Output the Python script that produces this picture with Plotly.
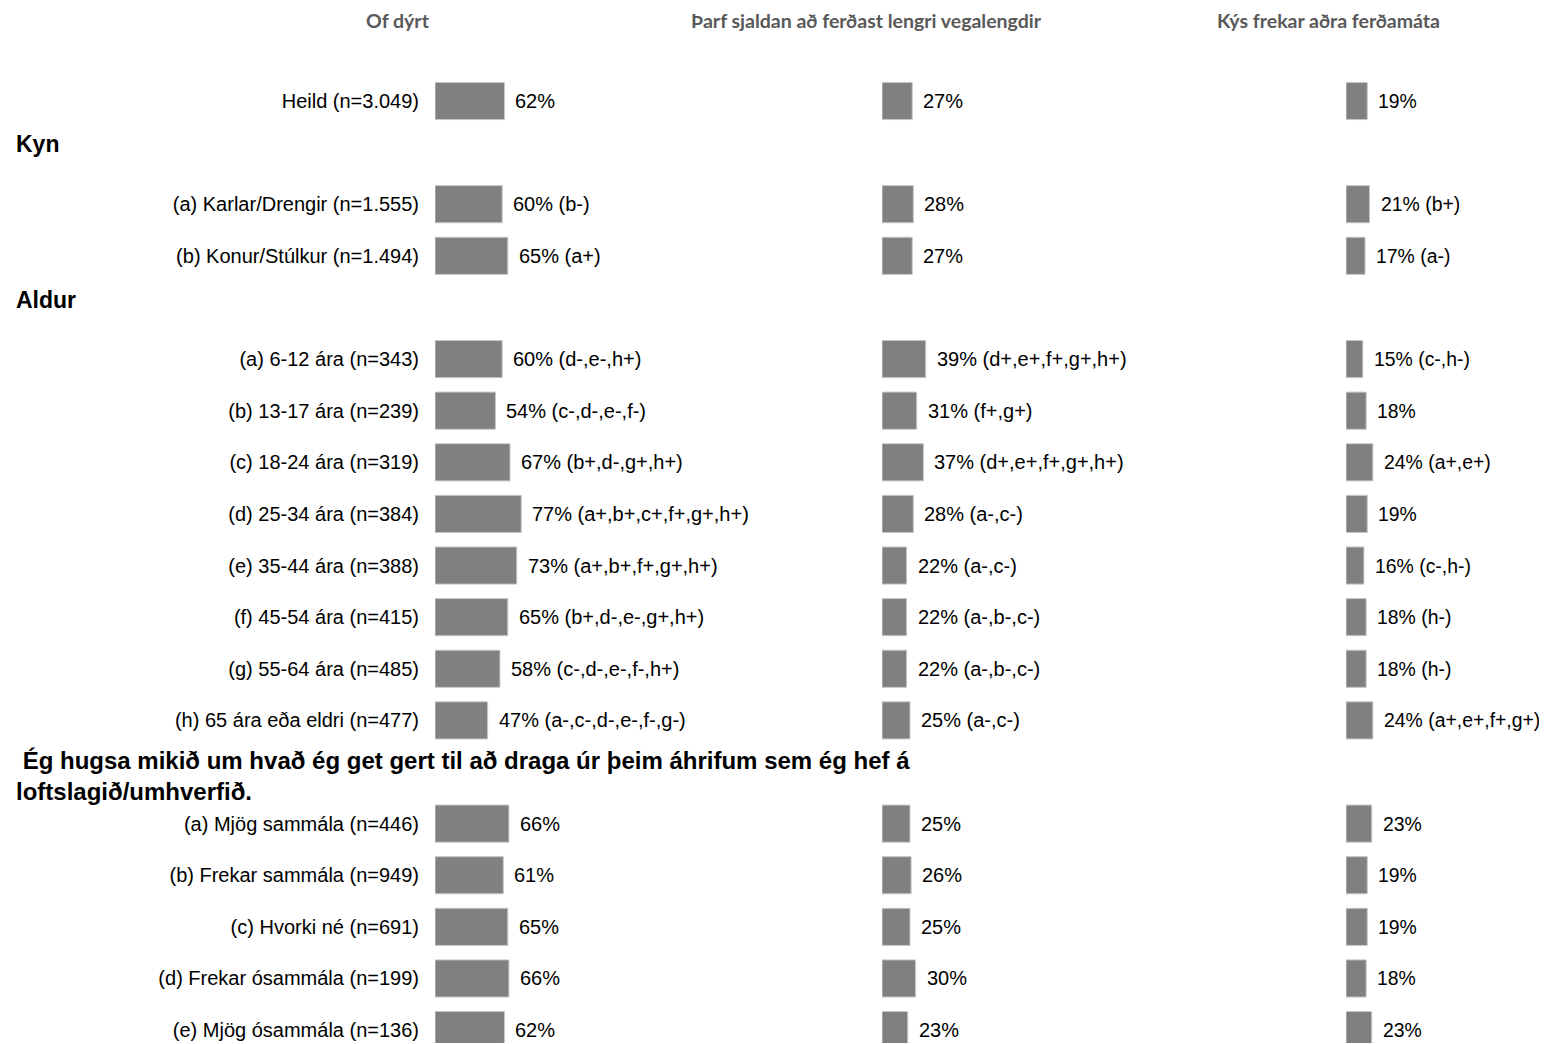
import plotly.graph_objects as go

# ---------------- data ----------------
row_labels = [
    "Heild (n=3.049)",
    "(a) Karlar/Drengir (n=1.555)",
    "(b) Konur/Stúlkur (n=1.494)",
    "(a) 6-12 ára (n=343)",
    "(b) 13-17 ára (n=239)",
    "(c) 18-24 ára (n=319)",
    "(d) 25-34 ára (n=384)",
    "(e) 35-44 ára (n=388)",
    "(f) 45-54 ára (n=415)",
    "(g) 55-64 ára (n=485)",
    "(h) 65 ára eða eldri (n=477)",
    "(a) Mjög sammála (n=446)",
    "(b) Frekar sammála (n=949)",
    "(c) Hvorki né (n=691)",
    "(d) Frekar ósammála (n=199)",
    "(e) Mjög ósammála (n=136)",
]

section_kyn = "Kyn"
section_aldur = "Aldur"
section_q = " Ég hugsa mikið um hvað ég get gert til að draga úr þeim áhrifum sem ég hef á<br>loftslagið/umhverfið."

column_titles = [
    "Of dýrt",
    "Þarf sjaldan að ferðast lengri vegalengdir",
    "Kýs frekar aðra ferðamáta",
]

of_dyrt = [62, 60, 65, 60, 54, 67, 77, 73, 65, 58, 47, 66, 61, 65, 66, 62]
of_dyrt_sig = ["", "(b-)", "(a+)", "(d-,e-,h+)", "(c-,d-,e-,f-)", "(b+,d-,g+,h+)",
               "(a+,b+,c+,f+,g+,h+)", "(a+,b+,f+,g+,h+)", "(b+,d-,e-,g+,h+)",
               "(c-,d-,e-,f-,h+)", "(a-,c-,d-,e-,f-,g-)", "", "", "", "", ""]

sjaldan = [27, 28, 27, 39, 31, 37, 28, 22, 22, 22, 25, 25, 26, 25, 30, 23]
sjaldan_sig = ["", "", "", "(d+,e+,f+,g+,h+)", "(f+,g+)", "(d+,e+,f+,g+,h+)",
               "(a-,c-)", "(a-,c-)", "(a-,b-,c-)", "(a-,b-,c-)", "(a-,c-)",
               "", "", "", "", ""]

adra = [19, 21, 17, 15, 18, 24, 19, 16, 18, 18, 24, 23, 19, 19, 18, 23]
adra_sig = ["", "(b+)", "(a-)", "(c-,h-)", "", "(a+,e+)", "", "(c-,h-)", "(h-)",
            "(h-)", "(a+,e+,f+,g+)", "", "", "", "", ""]

# slot order on the category axis (section headers occupy their own slot)
slots = ([row_labels[0], section_kyn] + row_labels[1:3] + [section_aldur]
         + row_labels[3:11] + [section_q] + row_labels[11:])

# ---------------- layout constants ----------------
OFF = 8                      # page body margin of the html page
W, H = 1547 - OFF, 1044 - OFF
PX_PER_PCT = 1.12
col_starts = [435 - OFF, 882 - OFF, 1346 - OFF]
col_ends = [800 - OFF, 1300 - OFF, 1547 - OFF]
BAR_COLOR = "#808080"
FONT_FAMILY = "Liberation Sans, Arial, sans-serif"
LABEL_FONT = dict(family=FONT_FAMILY, size=20, color="#000000")
value_font_sizes = [20, 20, 19.4]

fig = go.Figure()
series = [(of_dyrt, of_dyrt_sig), (sjaldan, sjaldan_sig), (adra, adra_sig)]
annotations = []
for i, (vals, sigs) in enumerate(series):
    xa = "x" if i == 0 else f"x{i+1}"
    fig.add_trace(go.Bar(
        x=vals, y=row_labels, orientation="h",
        xaxis=xa, yaxis="y",
        marker=dict(color=BAR_COLOR, line=dict(color="#c8c8c8", width=1)),
        width=0.72, showlegend=False, hoverinfo="x+y",
    ))
    for v, s, lab in zip(vals, sigs, row_labels):
        txt = f"{v}%" + (f" {s}" if s else "")
        annotations.append(dict(
            x=v, y=lab, xref=xa, yref="y", text=txt, showarrow=False,
            xanchor="left", xshift=9,
            font=dict(family=FONT_FAMILY, size=value_font_sizes[i], color="#000000"),
        ))

TOP, SLOT = 101 - OFF - 0.6 * 51.61, 51.61
r0, r1 = -0.6, 18.25
plot_h = (r1 - r0) * SLOT
bottom = H - TOP - plot_h

# column titles (pixel positions converted to paper coords)
title_centers = [398, 866, 1328]
title_y_px = 21 - OFF
for t, cx in zip(column_titles, title_centers):
    annotations.append(dict(
        x=(cx - OFF) / W, y=(H - bottom - title_y_px) / plot_h,
        xref="paper", yref="paper", text=f"<b>{t}</b>",
        showarrow=False, xanchor="center", yanchor="middle",
        font=dict(family="Lato, Open Sans, sans-serif", size=19.5, color="#595959"),
    ))

# section headers
for txt, shift, size in [(section_kyn, 9, 23), (section_aldur, 7, 23), (section_q, -4, 24)]:
    annotations.append(dict(
        x=(14 - OFF) / W, y=txt, xref="paper", yref="y", text=f"<b>{txt}</b>",
        showarrow=False, xanchor="left", yanchor="middle", align="left",
        yshift=shift,
        font=dict(family=FONT_FAMILY, size=size, color="#000000"),
    ))

layout_axes = {}
for i in range(3):
    key = "xaxis" if i == 0 else f"xaxis{i+1}"
    dom = [col_starts[i] / W, col_ends[i] / W]
    layout_axes[key] = dict(
        domain=dom, range=[0, (col_ends[i] - col_starts[i]) / PX_PER_PCT],
        visible=False, anchor="y", fixedrange=True,
    )

tick_text = [s if s in row_labels else "" for s in slots]
fig.update_layout(
    width=W, height=H,
    margin=dict(l=0, r=0, t=TOP, b=bottom, pad=0),
    paper_bgcolor="white", plot_bgcolor="white",
    annotations=annotations,
    yaxis=dict(
        type="category", categoryorder="array", categoryarray=slots,
        range=[r1, r0], tickvals=slots, ticktext=tick_text,
        showgrid=False, zeroline=False, showline=False, ticks="",
        ticklabelstandoff=15, tickfont=LABEL_FONT, anchor="x",
        fixedrange=True,
    ),
    **layout_axes,
)

fig.write_html("out.html")
